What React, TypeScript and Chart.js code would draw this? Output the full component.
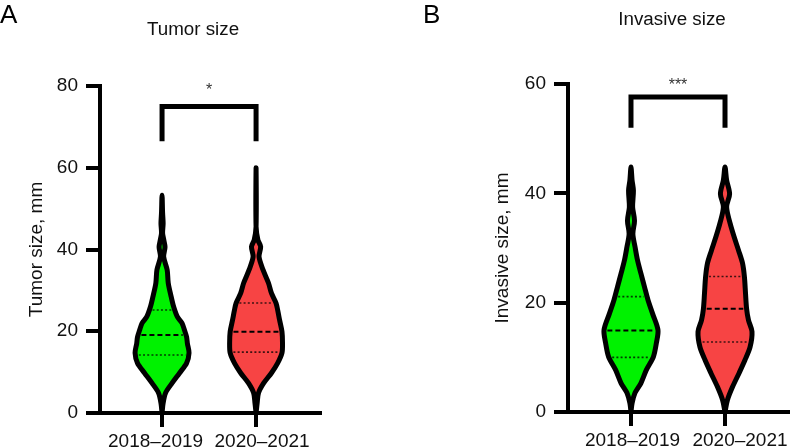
import React, { useEffect, useRef } from "react";
import { Chart, registerables } from "chart.js";

Chart.register(...registerables);

const FONT = "'Liberation Sans', Arial, Helvetica, sans-serif";

// ---------- data ----------
const groups = ["2018–2019", "2020–2021"];

const tumorTicks = [0, 20, 40, 60, 80];
const invasiveTicks = [0, 20, 40, 60];

// Tumor size violins: size levels (mm) and relative density (violin half width, 1 = widest)
const tumorLevels2018 = [0, 2.4, 4.9, 7.3, 9.8, 12.2, 14.7, 17, 18.6, 20.3, 22, 23.5, 26, 28.4, 31.8, 35, 38.2, 40.6, 42.5, 44, 46.4, 49, 53.3];
const tumorDensity2018 = [0, 0.04, 0.13, 0.37, 0.65, 0.91, 1.0, 0.94, 0.91, 0.83, 0.74, 0.57, 0.43, 0.34, 0.23, 0.19, 0.06, 0.11, 0.06, 0.02, 0.04, 0.02, 0];
const tumorLevels2020 = [0, 2.4, 4.9, 7.3, 9.8, 12.2, 14.7, 17.1, 19.9, 22.8, 25.2, 26.9, 29.3, 31.8, 35, 38.2, 40.7, 42.3, 45.6, 60];
const tumorDensity2020 = [0, 0.04, 0.09, 0.28, 0.57, 0.8, 0.96, 0.98, 0.96, 0.87, 0.8, 0.74, 0.57, 0.46, 0.26, 0.11, 0.17, 0.07, 0, 0];
const tumorQuartiles2018 = [14.2, 19.1, 25.2];
const tumorQuartiles2020 = [14.9, 19.9, 26.9];
const tumorBracket = [66.5, 75];
const tumorStarsAt = 80;

// Invasive size violins
const invasiveLevels2018 = [0, 1.6, 3.5, 5.3, 7.7, 10.1, 12.6, 15, 18, 20.5, 22.9, 25.3, 27.8, 30.2, 32.6, 35, 37.5, 40.5, 42.4, 44.8];
const invasiveDensity2018 = [0, 0.04, 0.15, 0.37, 0.57, 0.83, 0.94, 1.0, 0.8, 0.63, 0.5, 0.37, 0.24, 0.15, 0.07, 0.13, 0.06, 0.09, 0.04, 0];
const invasiveLevels2020 = [0, 2.2, 4.6, 7.1, 9.5, 11.9, 14.7, 16.8, 18.9, 21.7, 24.7, 27.2, 29.6, 32, 34.5, 37.5, 39.9, 42.4, 44.8];
const invasiveDensity2020 = [0, 0.09, 0.28, 0.52, 0.74, 0.93, 1.0, 0.87, 0.8, 0.76, 0.72, 0.65, 0.5, 0.34, 0.19, 0.06, 0.17, 0.06, 0];
const invasiveQuartiles2018 = [10, 14.9, 21.1];
const invasiveQuartiles2020 = [12.8, 18.9, 24.8];
const invasiveBracket = [52, 57.6];
const invasiveStarsAt = 60.6;

// ---------- styles ----------
const GREEN = "rgb(0, 242, 0)";
const RED = "rgb(247, 68, 68)";
const HALF = 0.287; // max violin half width in category units
const INSET = 0.035;

function densAt(levels: number[], dens: number[], v: number) {
  for (let i = 0; i < levels.length - 1; i++) {
    if (v >= levels[i] && v <= levels[i + 1]) {
      const t = (v - levels[i]) / (levels[i + 1] - levels[i]);
      return dens[i] + t * (dens[i + 1] - dens[i]);
    }
  }
  return 0;
}

function violinDataset(center: number, levels: number[], dens: number[], color: string) {
  const right = levels.map((v, i) => ({ x: center + dens[i] * HALF, y: v }));
  const left = levels
    .map((v, i) => ({ x: center - dens[i] * HALF, y: v }))
    .reverse()
    .slice(1);
  return {
    type: "line",
    data: [...right, ...left],
    borderColor: "#000",
    borderWidth: 5,
    backgroundColor: color,
    fill: "shape",
    tension: 0.3,
    pointRadius: 0,
    borderJoinStyle: "round",
    borderCapStyle: "round",
    clip: false,
    order: 3,
  };
}

function quartileDatasets(center: number, levels: number[], dens: number[], q: number[]) {
  return q.map((v, i) => {
    const d = densAt(levels, dens, v) * HALF - INSET;
    const median = i === 1;
    return {
      type: "line",
      data: [
        { x: center - d, y: v },
        { x: center + d, y: v },
      ],
      borderColor: median ? "#000" : "rgba(0,0,0,0.75)",
      borderWidth: median ? 2 : 1.6,
      borderDash: median ? [5, 3] : [2, 2.2],
      pointRadius: 0,
      fill: false,
      tension: 0,
      clip: false,
      order: 1,
    };
  });
}

function bracketDataset(b: number[]) {
  return {
    type: "line",
    data: [
      { x: 0, y: b[0] },
      { x: 0, y: b[1] },
      { x: 1, y: b[1] },
      { x: 1, y: b[0] },
    ],
    borderColor: "#000",
    borderWidth: 5,
    borderJoinStyle: "miter",
    borderCapStyle: "butt",
    pointRadius: 0,
    fill: false,
    tension: 0,
    clip: false,
    order: 2,
  };
}

const panelTextPlugin = {
  id: "panelText",
  afterDraw(chart: any, _args: any, opts: any) {
    const ctx = chart.ctx;
    const xs = chart.scales.x;
    const ys = chart.scales.y;
    ctx.save();
    ctx.fillStyle = "#000";
    ctx.font = `26px ${FONT}`;
    ctx.textAlign = "left";
    ctx.textBaseline = "alphabetic";
    ctx.fillText(opts.letter, opts.letterX, opts.letterY);
    ctx.font = `18.8px ${FONT}`;
    ctx.fillStyle = "#111";
    ctx.textAlign = "center";
    ctx.textBaseline = "middle";
    ctx.fillText(opts.title, opts.titleX, opts.titleY);
    ctx.font = `16px ${FONT}`;
    ctx.fillStyle = "#333";
    ctx.textBaseline = "alphabetic";
    ctx.fillText(opts.stars, xs.getPixelForValue(0.5), ys.getPixelForValue(opts.starsAt) + 9);
    // category labels
    ctx.font = `19px ${FONT}`;
    ctx.fillStyle = "#111";
    groups.forEach((g, i) => {
      ctx.fillText(g, xs.getPixelForValue(i) + opts.labelShift[i], chart.chartArea.bottom + 34);
    });
    ctx.restore();
  },
};

function axisCommon() {
  return {
    grid: { drawOnChartArea: false, tickLength: 14, tickWidth: 4, tickColor: "#000", color: "#000", lineWidth: 4 },
    border: { color: "#000", width: 4 },
  };
}

type PanelProps = {
  left: number;
  yMax: number;
  yTicks: number[];
  yTitle: string;
  yTitlePad: number;
  axisLeft: number;
  pad: { top: number; right: number };
  xHeight: number;
  xMin: number;
  xMax: number;
  datasets: any[];
  text: any;
};

function Panel(p: PanelProps) {
  const ref = useRef<HTMLCanvasElement>(null);
  useEffect(() => {
    if (!ref.current) return;
    const common = axisCommon();
    const chart = new Chart(ref.current, {
      type: "line",
      data: { datasets: p.datasets },
      options: {
        animation: false,
        responsive: false,
        devicePixelRatio: 1,
        layout: { padding: { left: 0, right: p.pad.right, top: p.pad.top, bottom: 0 }, autoPadding: false },
        plugins: {
          legend: { display: false },
          tooltip: { enabled: false },
          panelText: p.text,
        },
        scales: {
          x: {
            type: "linear",
            min: p.xMin,
            max: p.xMax,
            afterBuildTicks: (s: any) => {
              s.ticks = groups.map((_, i) => ({ value: i }));
            },
            afterFit: (s: any) => {
              s.height = p.xHeight;
            },
            ticks: {
              callback: (v: any) => groups[v] ?? "",
              font: { size: 19, family: FONT },
              color: "rgba(0,0,0,0)",
              padding: 2,
              maxRotation: 0,
              autoSkip: false,
            },
            ...common,
          },
          y: {
            type: "linear",
            min: 0,
            max: p.yMax,
            afterBuildTicks: (s: any) => {
              s.ticks = p.yTicks.map((v) => ({ value: v }));
            },
            afterFit: (s: any) => {
              s.width = p.axisLeft;
            },
            ticks: { font: { size: 19, family: FONT }, color: "#111", padding: 8 },
            title: {
              display: true,
              text: p.yTitle,
              font: { size: 19, family: FONT },
              color: "#111",
              padding: { top: p.yTitlePad, bottom: 0 },
            },
            ...common,
          },
        },
      } as any,
      plugins: [panelTextPlugin],
    } as any);
    return () => chart.destroy();
  }, []);
  return (
    <canvas
      ref={ref}
      width={397}
      height={448}
      style={{ position: "absolute", left: p.left, top: 0, width: 397, height: 448 }}
    />
  );
}

export default function App() {
  const tumorSets = [
    violinDataset(0, tumorLevels2018, tumorDensity2018, GREEN),
    violinDataset(1, tumorLevels2020, tumorDensity2020, RED),
    ...quartileDatasets(0, tumorLevels2018, tumorDensity2018, tumorQuartiles2018),
    ...quartileDatasets(1, tumorLevels2020, tumorDensity2020, tumorQuartiles2020),
    bracketDataset(tumorBracket),
  ];
  const invasiveSets = [
    violinDataset(0, invasiveLevels2018, invasiveDensity2018, GREEN),
    violinDataset(1, invasiveLevels2020, invasiveDensity2020, RED),
    ...quartileDatasets(0, invasiveLevels2018, invasiveDensity2018, invasiveQuartiles2018),
    ...quartileDatasets(1, invasiveLevels2020, invasiveDensity2020, invasiveQuartiles2020),
    bracketDataset(invasiveBracket),
  ];
  return (
    <div style={{ position: "fixed", left: 0, top: 0, width: 794, height: 448, background: "#fff" }}>
      <Panel
        left={0}
        yMax={80}
        yTicks={tumorTicks}
        yTitle="Tumor size, mm"
        yTitlePad={25}
        axisLeft={100}
        pad={{ top: 86, right: 77 }}
        xHeight={35}
        xMin={-0.66}
        xMax={1.68}
        datasets={tumorSets}
        text={{ letter: "A", letterX: 0, letterY: 23, title: "Tumor size", titleX: 193, titleY: 30, stars: "*", starsAt: tumorStarsAt, labelShift: [-6.5, 6] }}
      />
      <Panel
        left={397}
        yMax={60}
        yTicks={invasiveTicks}
        yTitle="Invasive size, mm"
        yTitlePad={94}
        axisLeft={171}
        pad={{ top: 84, right: 6 }}
        xHeight={36}
        xMin={-0.67}
        xMax={1.67}
        datasets={invasiveSets}
        text={{ letter: "B", letterX: 26, letterY: 23, title: "Invasive size", titleX: 275, titleY: 20, stars: "***", starsAt: invasiveStarsAt, labelShift: [1.5, 15] }}
      />
    </div>
  );
}
